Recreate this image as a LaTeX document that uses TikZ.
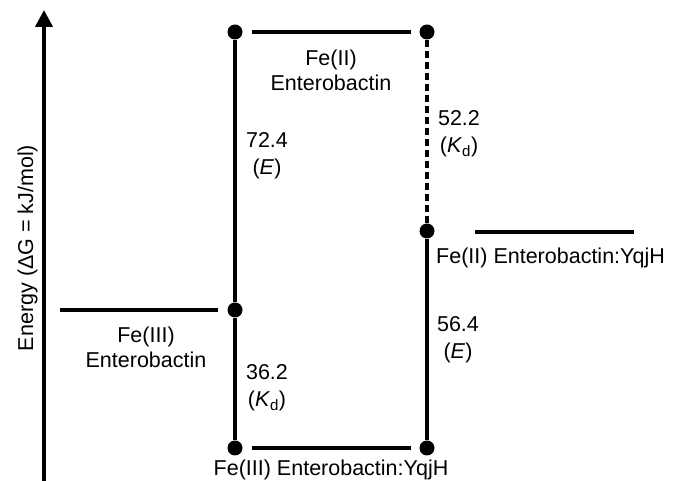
\documentclass[tikz,border=0pt]{standalone}
\usepackage{fontspec}
\setmainfont{Liberation Sans}
\usetikzlibrary{arrows.meta}
\begin{document}
\begin{tikzpicture}[x=1pt,y=1pt,
  dot/.style={circle,fill=black,inner sep=0pt,minimum size=15pt},
  lvl/.style={line width=4pt},
  conn/.style={line width=4pt},
  lbl/.style={font=\fontsize{21.5}{25}\selectfont,align=center,inner sep=0pt},
  num/.style={font=\fontsize{21.5}{27}\selectfont,align=center,inner sep=0pt}]
\useasboundingbox (0,0) rectangle (673,481);
% axis
\coordinate (ax0) at (44,-2);
\coordinate (ax1) at (44,471);
\draw[line width=4pt,-{Triangle[length=17pt,width=17pt]}] (ax0) -- (ax1);
\node[lbl,rotate=90,anchor=base] (ylab) at (33,233) {Energy (ΔG = kJ/mol)};
% dots
\node[dot] (a1) at (235,449) {};
\node[dot] (a2) at (235,171) {};
\node[dot] (a3) at (235,33) {};
\node[dot] (b1) at (427,449) {};
\node[dot] (b2) at (427,250) {};
\node[dot] (b3) at (427,33) {};
% verticals
\draw[conn] (a1) -- (a2);
\draw[conn] (a2) -- (a3);
\draw[conn,dash pattern=on 7pt off 4pt] (b1) -- (b2);
\draw[conn] (b2) -- (b3);
% levels
\coordinate (t1) at (252,449); \coordinate (t2) at (411,449);
\draw[lvl] (t1) -- (t2);
\coordinate (u1) at (252,33); \coordinate (u2) at (411,33);
\draw[lvl] (u1) -- (u2);
\coordinate (l1) at (60,171); \coordinate (l2) at (218,171);
\draw[lvl] (l1) -- (l2);
\coordinate (r1) at (475,249); \coordinate (r2) at (634,249);
\draw[lvl] (r1) -- (r2);
% labels
\node[lbl] (tl) at (331,411) {Fe(II)\\Enterobactin};
\node[lbl] (ll) at (146,134) {Fe(III)\\Enterobactin};
\node[lbl,anchor=west] (rl) at (436,223) {Fe(II) Enterobactin:YqjH};
\node[lbl] (ul) at (331,11) {Fe(III) Enterobactin:YqjH};
\node[num] (e1) at (267,325) {72.4\\(\textit{E})};
\node[num] (k1) at (267,93) {36.2\\(\textit{K}\textsubscript{d})};
\node[num] (k2) at (459,347) {52.2\\(\textit{K}\textsubscript{d})};
\node[num] (e2) at (458,141) {56.4\\(\textit{E})};
\end{tikzpicture}
\end{document}
